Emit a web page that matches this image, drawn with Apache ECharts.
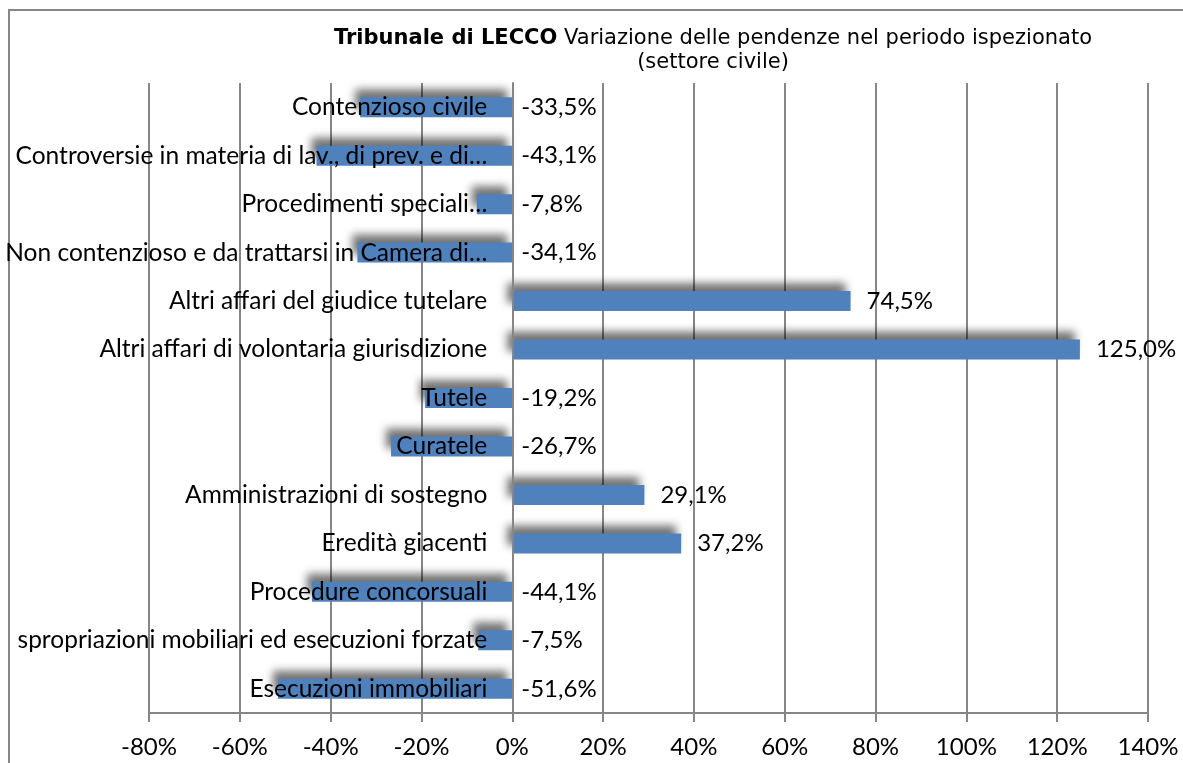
<!DOCTYPE html>
<html>
<head>
<meta charset="utf-8">
<script src="https://cdn.jsdelivr.net/npm/echarts@6/dist/echarts.min.js"></script>
<style>
  html, body { margin: 0; padding: 0; background: #fff; }
  #chart { width: 1183px; height: 763px; }
</style>
</head>
<body>
<div id="chart"></div>
<script>
// categorie dall'alto verso il basso
var categories = [
  "Contenzioso civile",
  "Controversie in materia di lav., di prev. e di…",
  "Procedimenti speciali…",
  "Non contenzioso e da trattarsi in Camera di…",
  "Altri affari del giudice tutelare",
  "Altri affari di volontaria giurisdizione",
  "Tutele",
  "Curatele",
  "Amministrazioni di sostegno",
  "Eredità giacenti",
  "Procedure concorsuali",
  "spropriazioni mobiliari ed esecuzioni forzate",
  "Esecuzioni immobiliari"
];
var variazioni = [-33.5, -43.1, -7.8, -34.1, 74.5, 125.0, -19.2, -26.7, 29.1, 37.2, -44.1, -7.5, -51.6];
var xTicks = { min: -80, max: 140, step: 20 };

function pct(v) {
  return v.toFixed(1).replace(".", ",") + "%";
}

var W = 1183, gridLeft = 149, gridRight = 35;
// sposta l'asse delle categorie sullo zero dell'asse x
var zeroOffset = -(0 - xTicks.min) / (xTicks.max - xTicks.min) * (W - gridLeft - gridRight);

var myChart = echarts.init(document.getElementById("chart"));

var barData = [];
for (var i = 0; i < variazioni.length; i++) {
  var v = variazioni[i];
  barData.push({
    value: v,
    label: { distance: v < 0 ? 9 : 16 }
  });
}

var option = {
  animation: false,
  backgroundColor: "#fff",
  title: {
    left: 708,
    top: 23,
    textAlign: "center",
    text: "{b|Tribunale di LECCO} Variazione delle pendenze nel periodo ispezionato",
    textStyle: {
      fontFamily: "DejaVu Sans",
      fontSize: 21,
      fontWeight: "normal",
      color: "#000",
      rich: {
        b: { fontFamily: "DejaVu Sans", fontSize: 21, fontWeight: "bold", color: "#000" }
      }
    },
    subtext: "(settore civile)",
    subtextStyle: {
      fontFamily: "DejaVu Sans",
      fontSize: 21,
      color: "#000"
    },
    itemGap: 3
  },
  graphic: [
    {
      type: "rect",
      z: -1,
      shape: { x: 9, y: 10, width: 1200, height: 800 },
      style: { fill: "none", stroke: "#868686", lineWidth: 2 }
    }
  ],
  grid: {
    left: gridLeft,
    right: gridRight,
    top: 83,
    bottom: 50,
    containLabel: false,
    outerBoundsMode: "none"
  },
  xAxis: {
    type: "value",
    min: xTicks.min,
    max: xTicks.max,
    interval: xTicks.step,
    axisLine: { show: true, lineStyle: { color: "#868686", width: 2 } },
    axisTick: { show: true, length: 9, lineStyle: { color: "#868686", width: 2 } },
    splitLine: { show: true, lineStyle: { color: "#868686", width: 2 } },
    axisLabel: {
      formatter: "{value}%",
      fontFamily: "Lato",
      fontSize: 24,
      color: "#000",
      margin: 22
    }
  },
  yAxis: {
    type: "category",
    inverse: true,
    data: categories,
    position: "left",
    offset: zeroOffset,
    z: 10,
    axisLine: { show: true, onZero: false, lineStyle: { color: "#868686", width: 2 } },
    axisTick: { show: false },
    axisLabel: {
      fontFamily: "Lato",
      fontSize: 24.5,
      color: "#000",
      margin: 25
    }
  },
  series: [
    {
      type: "bar",
      data: barData,
      barWidth: 20,
      z: 2,
      itemStyle: {
        color: "#4f81bd",
        shadowColor: "rgba(0,0,0,0.55)",
        shadowBlur: 8,
        shadowOffsetX: -5,
        shadowOffsetY: -8
      },
      label: {
        show: true,
        position: "right",
        formatter: function(p) {
          return pct(p.value);
        },
        fontFamily: "Lato",
        fontSize: 24,
        color: "#000"
      }
    }
  ]
};

myChart.setOption(option);
</script>
</body>
</html>
